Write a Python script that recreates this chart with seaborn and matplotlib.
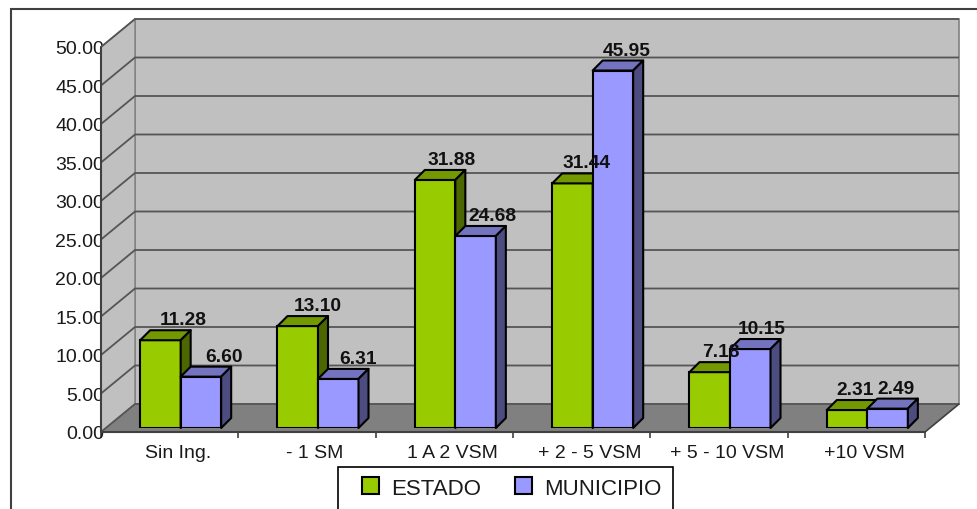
import numpy as np
import pandas as pd
import matplotlib
matplotlib.use("Agg")
import matplotlib.pyplot as plt
from matplotlib.patches import Polygon, Rectangle
from matplotlib.colors import to_hex
import seaborn as sns

# ---- data -------------------------------------------------------------
categories = ["Sin Ing.", "- 1 SM", "1 A 2 VSM", "+ 2 - 5 VSM", "+ 5 - 10 VSM", "+10 VSM"]
series = ["ESTADO", "MUNICIPIO"]
estado = [11.28, 13.10, 31.88, 31.44, 7.18, 2.31]
municipio = [6.60, 6.31, 24.68, 45.95, 10.15, 2.49]
y_ticks = [0, 5, 10, 15, 20, 25, 30, 35, 40, 45, 50]

df = pd.DataFrame({
    "categoria": categories * 2,
    "serie": [series[0]] * len(categories) + [series[1]] * len(categories),
    "valor": estado + municipio,
})

# ---- style ------------------------------------------------------------
sns.set_style("white")
plt.rcParams["font.family"] = ["Liberation Sans", "DejaVu Sans"]

front = {"ESTADO": "#99CC00", "MUNICIPIO": "#9999FF"}
top_c = {"#99cc00": "#739900", "#9999ff": "#7373BF"}
side_c = {"#99cc00": "#4C6600", "#9999ff": "#4C4C80"}

W, H, DPI = 978, 510, 100
fig = plt.figure(figsize=(W / DPI, H / DPI), dpi=DPI)
fig.patch.set_facecolor("white")


def frac(l, t, r, b):
    """pixel box (left, top, right, bottom) -> figure-fraction rect"""
    return [l / W, 1 - b / H, (r - l) / W, (b - t) / H]


def px_delta(a, dx, dy):
    inv = a.transData.inverted()
    p0 = inv.transform((0, 0))
    p1 = inv.transform((dx, dy))
    return p1[0] - p0[0], p1[1] - p0[1]


# front plane of the chart box (axis labels, walls, floor)
ax = fig.add_axes(frac(101, 48, 925, 433))
ax.set_xlim(-0.5, 5.5)
ax.set_ylim(0, 50)
ax.set_facecolor("none")
for s in ax.spines.values():
    s.set_visible(False)

# plane holding the bar fronts
axb = fig.add_axes(frac(112, 40, 936, 429))
axb.set_facecolor("none")

# ---- walls and floor --------------------------------------------------
ddx, ddy = px_delta(ax, 34, 28)
x0, x1 = -0.5, 5.5

back = Rectangle((x0 + ddx, ddy), x1 - x0, 50, fc="#C0C0C0", ec="#808080",
                 lw=1.2, zorder=0.5, clip_on=False)
ax.add_patch(back)
side = Polygon([(x0, 0), (x0, 50), (x0 + ddx, 50 + ddy), (x0 + ddx, ddy)],
               closed=True, fc="#C0C0C0", ec="#808080", lw=1.0, zorder=0.6, clip_on=False)
ax.add_patch(side)
floor = Polygon([(x0, 0), (x1, 0), (x1 + ddx, ddy), (x0 + ddx, ddy)],
                closed=True, fc="#808080", ec="none", zorder=0.7, clip_on=False)
ax.add_patch(floor)

for v in y_ticks:
    ax.plot([x0, x0 + ddx, x1 + ddx], [v, v + ddy, v + ddy], color="#555555",
            lw=1.3, zorder=1, clip_on=False, solid_capstyle="butt")

ax.plot([x1, x1 + ddx], [0, ddy], color="#404040", lw=1.2, zorder=1.2, clip_on=False)
ax.plot([x0, x1], [0, 0], color="#404040", lw=1.5, zorder=3, clip_on=False)
ax.plot([x0, x0], [0, 50], color="#404040", lw=1.5, zorder=3, clip_on=False)

# ---- axis ticks -------------------------------------------------------
lab_shift = px_delta(ax, 8, 0)[0]
ax.set_xticks(np.arange(len(categories)) + lab_shift, labels=categories)
ax.set_xticks(np.arange(-0.5, len(categories) + 0.5, 1), minor=True)
ax.tick_params(axis="x", which="major", length=0, pad=8.5, labelsize=14,
               labelcolor="#1a1a1a")
ax.tick_params(axis="x", which="minor", bottom=True, length=4.5, width=1.2,
               color="#404040", direction="out")
ax.set_yticks(y_ticks, labels=[f"{v:.2f}" for v in y_ticks])
ax.tick_params(axis="y", length=0, pad=-2.2, labelsize=14, labelcolor="#1a1a1a")

# ---- bars -------------------------------------------------------------
sns.barplot(data=df, x="categoria", y="valor", hue="serie", order=categories,
            hue_order=series, palette=front, width=0.59, gap=0, saturation=1,
            errorbar=None, edgecolor="black", linewidth=1.5, ax=axb)
axb.set_xlim(-0.5, 5.5)
axb.set_ylim(0, 50)
axb.axis("off")

bdx, bdy = px_delta(axb, 10, 10)
bars = sorted([p for p in axb.patches if isinstance(p, Rectangle) and p.get_height() > 0],
              key=lambda p: p.get_x())
for i, p in enumerate(bars):
    bx, bw, bh = p.get_x(), p.get_width(), p.get_height()
    key = to_hex(p.get_facecolor())
    z = 3 + 3 * i
    p.set_zorder(z)
    axb.add_patch(Polygon([(bx, bh), (bx + bw, bh), (bx + bw + bdx, bh + bdy), (bx + bdx, bh + bdy)],
                          closed=True, fc=top_c[key], ec="black", lw=1.5, zorder=z + 1,
                          clip_on=False, joinstyle="round"))
    axb.add_patch(Polygon([(bx + bw, 0), (bx + bw + bdx, bdy), (bx + bw + bdx, bh + bdy), (bx + bw, bh)],
                          closed=True, fc=side_c[key], ec="black", lw=1.5, zorder=z + 2,
                          clip_on=False, joinstyle="round"))
    cat_idx = int(round(bx + bw / 2))
    dx_pt = (23 - 3 * cat_idx) * 72 / DPI
    axb.annotate(f"{bh:.2f}", xy=(bx + bw / 2, bh), xytext=(dx_pt, 11.5),
                 textcoords="offset points", ha="center", va="baseline",
                 fontsize=13.8, fontweight="bold", color="#111111", zorder=200,
                 annotation_clip=False)

# ---- legend -----------------------------------------------------------
old = axb.get_legend()
handles = list(old.legend_handles)
labels = [t.get_text() for t in old.get_texts()]
old.remove()
leg = fig.legend(handles, labels, loc="center left", bbox_to_anchor=(362 / W, 1 - 489 / H),
                 ncol=2, frameon=False, fontsize=16, handlelength=0.77, handleheight=0.8,
                 handletextpad=0.55, columnspacing=1.5, borderpad=0, borderaxespad=0)
for h in leg.legend_handles:
    h.set_edgecolor("black")
    h.set_linewidth(1.5)
for t in leg.get_texts():
    t.set_color("#1a1a1a")

fig.add_artist(Rectangle((338 / W, -0.2), (673 - 338) / W, 0.2 + 1 - 468 / H,
                         transform=fig.transFigure, fill=False, ec="black", lw=1.2))

# outer chart frame
fig.add_artist(Rectangle((11.5 / W, -0.1), 1.2, 0.1 + 1 - 9.5 / H,
                         transform=fig.transFigure, fill=False, ec="#404040", lw=1.5))

fig.savefig("out.png", dpi=DPI)
